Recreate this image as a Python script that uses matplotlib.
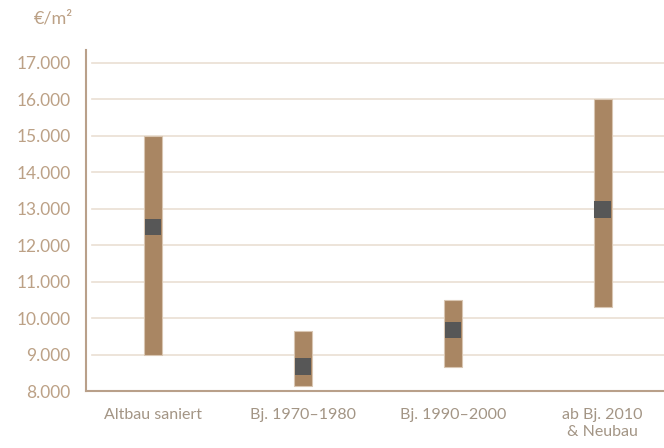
import matplotlib.pyplot as plt
import numpy as np

# price ranges in EUR per m2
categories = ['Altbau saniert', 'Bj. 1970–1980', 'Bj. 1990–2000', 'ab Bj. 2010\n& Neubau']
low = [9000, 8150, 8650, 10300]
high = [15000, 9650, 10500, 16000]
mid_low = [12280, 8450, 9450, 12750]
mid_high = [12720, 8900, 9900, 13200]
yticks = [8000, 9000, 10000, 11000, 12000, 13000, 14000, 15000, 16000, 17000]
ytick_labels = ['8.000', '9.000', '10.000', '11.000', '12.000', '13.000',
                '14.000', '15.000', '16.000', '17.000']

BROWN = '#A98663'
GREY = '#575757'
GRID = '#EADFD3'
SPINE = '#B9A08A'
LABEL = '#BCA186'
XLABEL = '#A39585'

plt.rcParams['font.family'] = ['Lato', 'DejaVu Sans']

fig = plt.figure(figsize=(6.64, 4.48), dpi=100)
ax = fig.add_axes([86 / 664, 57 / 448, 578 / 664, 341 / 448])

x = np.arange(len(categories))
w = 0.12

for yv in yticks[1:]:
	ax.axhline(yv, xmin=0.01, xmax=1, color=GRID, lw=1.2, zorder=0)

ax.bar(x, np.array(high) - np.array(low), bottom=low, width=w,
	color=BROWN, edgecolor='#D9C6B2', linewidth=0.8, zorder=2)
ax.bar(x, np.array(mid_high) - np.array(mid_low), bottom=mid_low, width=w * 0.9,
	color=GREY, linewidth=0, zorder=3)

ax.set_xlim(-0.447, 3.41)
ax.set_ylim(8000, 17350)

ax.set_yticks(yticks)
ax.set_yticklabels(ytick_labels)
ax.set_xticks(x)
ax.set_xticklabels(categories, linespacing=1.3)
ax.tick_params(axis='y', length=0, pad=11, labelsize=12.5, labelcolor=LABEL)
ax.tick_params(axis='x', length=0, pad=12, labelsize=11.5, labelcolor=XLABEL)

for s in ['top', 'right']:
	ax.spines[s].set_visible(False)
ax.spines['left'].set_color(SPINE)
ax.spines['left'].set_linewidth(1.5)
ax.spines['bottom'].set_color(SPINE)
ax.spines['bottom'].set_linewidth(1.5)

fig.text(53 / 664, 1 - 18 / 448, '€/m²', color=LABEL, fontsize=13,
	ha='center', va='center')

fig.savefig('out.png', dpi=100)
